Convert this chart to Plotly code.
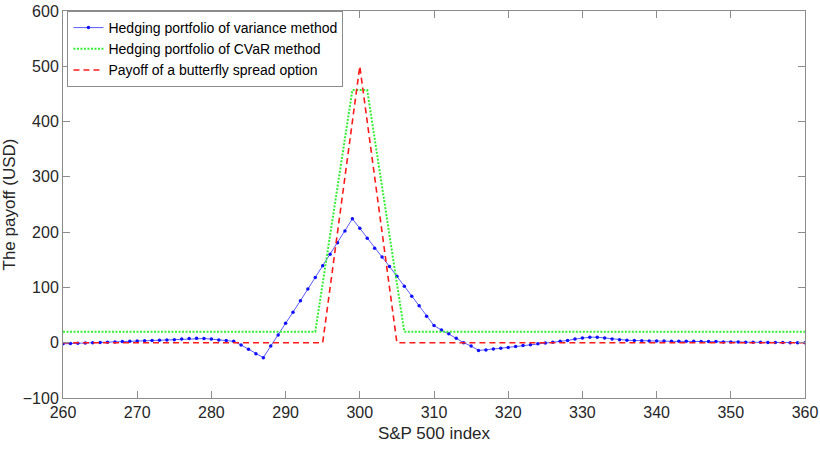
import plotly.graph_objects as go

# S&P 500 index grid for the variance-method hedge (one point per index level)
sp_index = list(range(260, 361))
variance_hedge = [
    -2, -1.5, -1, -0.5, 0, 0.5, 1, 1.5, 2, 2.5,          # 260-269
    3, 3.5, 4, 4.5, 5, 5.5, 6.5, 7.5, 8, 7.5,             # 270-279
    6.5, 5, 4, 2.5, -4, -12, -20, -27, -6, 14,            # 280-289
    35, 55, 76, 97, 118, 139, 160, 181, 202, 224,         # 290-299
    207, 189, 171, 155, 138, 120, 102, 84, 67, 48,        # 300-309
    31, 23, 16, 8, 0, -6, -14, -13, -11.5, -10,           # 310-319
    -8.5, -7, -5, -3.5, -2, -0.5, 1, 2.5, 4, 6.5,         # 320-329
    8.5, 10, 10, 8.5, 6.5, 5.5, 4.5, 4, 3.5, 3,           # 330-339
    3, 3, 2.5, 2.5, 2.5, 2.5, 2, 2, 2, 1.5,               # 340-349
    1.5, 1.5, 1, 1, 1, 0.5, 0.5, 0.5, 0, 0,               # 350-359
    0,                                                    # 360
]

cvar_x = [260, 294, 299, 301, 306, 360]
cvar_y = [20, 20, 457, 457, 20, 20]

butterfly_x = [260, 295, 300, 305, 360]
butterfly_y = [0, 0, 500, 0, 0]

x_ticks = list(range(260, 361, 10))
y_ticks = list(range(-100, 601, 100))

fig = go.Figure()
fig.add_trace(go.Scatter(
    x=sp_index, y=variance_hedge, mode="lines+markers",
    name="Hedging portfolio of variance method",
    line=dict(color="#5a5aff", width=1),
    marker=dict(color="#1010ff", size=3.5, symbol="circle"),
))
fig.add_trace(go.Scatter(
    x=cvar_x, y=cvar_y, mode="lines",
    name="Hedging portfolio of CVaR method",
    line=dict(color="#33ee33", width=2, dash="2px,1.5px"),
))
fig.add_trace(go.Scatter(
    x=butterfly_x, y=butterfly_y, mode="lines",
    name="Payoff of a butterfly spread option",
    line=dict(color="#ff1a1a", width=1.6, dash="6px,4px"),
))

axis_common = dict(
    showgrid=False, zeroline=False, showline=True, linecolor="#8c8c8c",
    linewidth=1, mirror="ticks", ticks="inside", ticklen=7, tickcolor="#8c8c8c",
    automargin=False,
    tickfont=dict(family="Liberation Sans, Arial, sans-serif", size=16, color="#262626"),
)

fig.update_layout(
    width=820, height=449,
    margin=dict(l=63, r=15, t=11, b=51),
    paper_bgcolor="white", plot_bgcolor="white",
    font=dict(family="Liberation Sans, Arial, sans-serif", color="#262626"),
    showlegend=True,
    legend=dict(
        x=0.006, y=1.0, xanchor="left", yanchor="top",
        bgcolor="white", bordercolor="#8c8c8c", borderwidth=1,
        font=dict(size=14, color="#000000"), tracegroupgap=0,
        itemwidth=30,
    ),
    xaxis=dict(
        range=[260, 360], tickvals=x_ticks,
        title=dict(text="S&P 500 index", font=dict(size=17), standoff=6),
        **axis_common,
    ),
    yaxis=dict(
        range=[-100, 600], tickvals=y_ticks,
        title=dict(text="The payoff (USD)", font=dict(size=17), standoff=4),
        **axis_common,
    ),
)

fig.write_html("out.html")
